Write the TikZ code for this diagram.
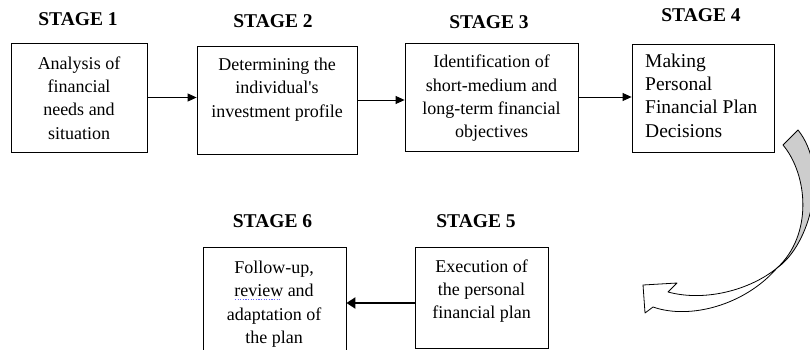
\documentclass[tikz,border=0pt]{standalone}
\usepackage{fontspec}
\setmainfont{Liberation Serif}
\newfontfamily\straightq{Liberation Serif}[Ligatures=TeXOff]
\usetikzlibrary{arrows.meta,calc}
\newsavebox\spellbox
\newcommand\spellmark[1]{\sbox\spellbox{#1}\rlap{\raisebox{-3.5pt}{\textcolor{blue!60}{\hbox to \wd\spellbox{\leaders\hbox to 2.6pt{\hss\rule{1.3pt}{1pt}\hss}\hfill}}}}#1}
\definecolor{arrowgray}{RGB}{205,205,205}
\begin{document}
\begin{tikzpicture}[x=1pt,y=-1pt,
  box/.style={draw, line width=0.8pt, inner sep=0pt},
  txt/.style={font=\fontsize{18}{23.3}\selectfont, align=center, inner sep=0pt},
  txtleft/.style={font=\fontsize{19.5}{23.3}\selectfont, align=left, inner sep=0pt},
  stagelbl/.style={font=\fontsize{19.5}{22}\selectfont\bfseries, inner sep=0pt},
  flow/.style={-{Triangle[length=9pt,width=8pt]}, line width=0.8pt},
  thickflow/.style={-{Triangle[length=9pt,width=11pt]}, line width=2pt},
  twist/.style={draw=black, line width=0.8pt, line join=round}]
\useasboundingbox (0,0) rectangle (810,350);
\fill[white] (0,0) rectangle (810,350);

% boxes
\node[box, minimum width=136pt, minimum height=109pt] (b1) at (79,97.5) {};
\node[box, minimum width=160pt, minimum height=108pt] (b2) at (277,100) {};
\node[box, minimum width=173pt, minimum height=108pt] (b3) at (491.5,97) {};
\node[box, minimum width=142pt, minimum height=108pt] (b4) at (703,98) {};
\node[box, minimum width=133pt, minimum height=101pt] (b5) at (481.5,297.5) {};
\node[box, minimum width=143pt, minimum height=106pt] (b6) at (274.5,300) {};

% stage labels
\node[stagelbl] (s1) at (78,19) {STAGE 1};
\node[stagelbl] (s2) at (273,21) {STAGE 2};
\node[stagelbl] (s3) at (489,22) {STAGE 3};
\node[stagelbl] (s4) at (701,15) {STAGE 4};
\node[stagelbl] (s5) at (476,221) {STAGE 5};
\node[stagelbl] (s6) at (272.5,221) {STAGE 6};

% texts
\node[txt, anchor=north] (t1) at (79,56.5) {Analysis of\\financial\\needs and\\situation};
\node[txt, anchor=north] (t2) at (277,58) {Determining the\\individual{\straightq '}s\\investment profile};
\node[txt, anchor=north] (t3) at (491.5,55) {Identification of\\short-medium and\\long-term financial\\objectives};
\node[txtleft, anchor=north west] (t4) at (645,53.5) {Making\\Personal\\Financial Plan\\Decisions};
\node[txt, anchor=north] (t5) at (481.5,259.5) {Execution of\\the personal\\financial plan};
\node[txt, anchor=north] (t6) at (274,261) {Follow-up,\\\spellmark{review} and\\adaptation of\\the plan};

% connectors
\draw[flow] (b1.east) -- (b1.east -| b2.west);
\draw[flow] (b2.east) -- (b2.east -| b3.west);
\draw[flow] (b3.east) -- (b3.east -| b4.west);
\coordinate (c5) at ([yshift=-5.5pt]b5.west);
\draw[thickflow] (c5) -- (c5 -| b6.east);

% curved twisted arrow (stage 4 -> stage 5)
\filldraw[twist, fill=arrowgray] (783,145) .. controls (808,175) and (813,235) .. (777,268)
  .. controls (810,245) and (830,170) .. (798,130) -- cycle;
\filldraw[twist, fill=white] (777,268) .. controls (750,290) and (705,302) .. (668,292)
  -- (677,283) -- (643,285) -- (645,313) -- (653,307)
  .. controls (690,320) and (745,305) .. (777,268) -- cycle;
\end{tikzpicture}
\end{document}
